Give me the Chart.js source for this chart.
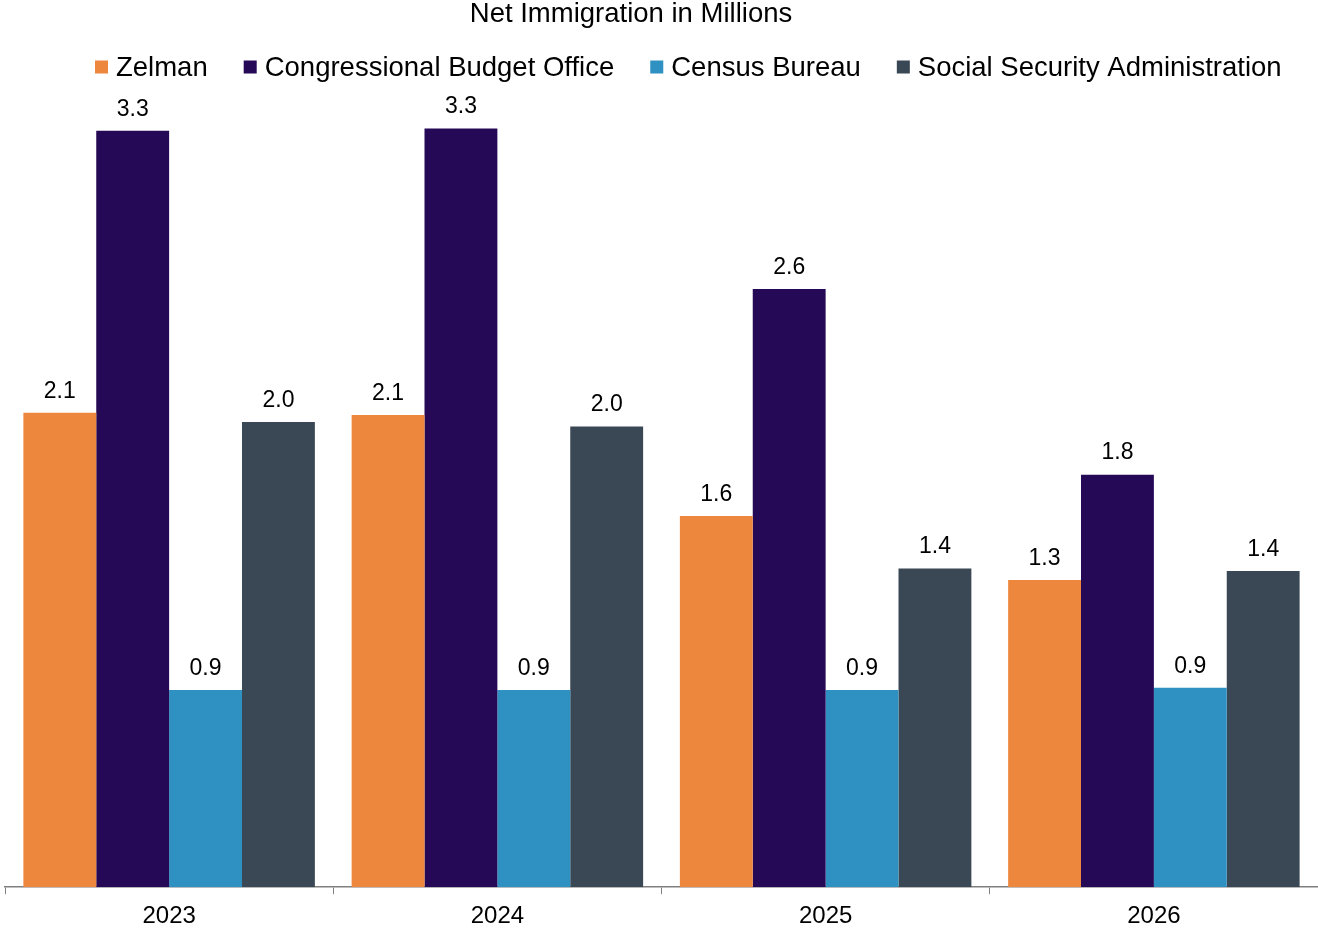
<!DOCTYPE html>
<html>
<head>
<meta charset="utf-8">
<script src="https://cdn.jsdelivr.net/npm/chart.js@4"></script>
<style>
  html, body { margin: 0; padding: 0; background: #ffffff; }
  #wrap { width: 1318px; height: 931px; position: relative; }
</style>
</head>
<body>
<div id="wrap"><canvas id="c"></canvas></div>
<script>
const categories = ["2023", "2024", "2025", "2026"];
const seriesNames = ["Zelman", "Congressional Budget Office", "Census Bureau", "Social Security Administration"];
const zelman = [2.07, 2.06, 1.62, 1.34];
const cbo = [3.30, 3.31, 2.61, 1.80];
const census = [0.86, 0.86, 0.86, 0.87];
const ssa = [2.03, 2.01, 1.39, 1.38];
const colors = ["#EE873E", "#250956", "#2E91C1", "#394854"];
const titleText = "Net Immigration in Millions";

const FONT = "'Liberation Sans', Arial, sans-serif";

const valueLabels = {
  id: 'valueLabels',
  afterDatasetsDraw(chart) {
    const ctx = chart.ctx;
    ctx.save();
    ctx.font = "23px " + FONT;
    ctx.fillStyle = "#000000";
    ctx.textAlign = "center";
    ctx.textBaseline = "bottom";
    chart.data.datasets.forEach((ds, i) => {
      const meta = chart.getDatasetMeta(i);
      meta.data.forEach((bar, j) => {
        ctx.fillText(ds.data[j].toFixed(1), bar.x, bar.y - 10);
      });
    });
    ctx.restore();
  }
};

// Title and legend drawn on the canvas with tighter box-to-text spacing
const headerPlugin = {
  id: 'headerPlugin',
  afterDraw(chart) {
    const ctx = chart.ctx;
    const W = chart.width;
    ctx.save();
    ctx.fillStyle = "#000000";
    ctx.textBaseline = "middle";
    ctx.textAlign = "center";
    ctx.font = "27.5px " + FONT;
    ctx.fillText(titleText, W / 2 - 28, 14);

    ctx.font = "27.5px " + FONT;
    ctx.textAlign = "left";
    const box = 13, boxGap = 8, itemGap = 36;
    const items = chart.data.datasets.map(ds => ({ text: ds.label, color: ds.backgroundColor, w: ctx.measureText(ds.label).width }));
    let total = 0;
    items.forEach((it, i) => { total += box + boxGap + it.w + (i < items.length - 1 ? itemGap : 0); });
    let x = 95;
    const y = 67;
    items.forEach(it => {
      ctx.fillStyle = it.color;
      ctx.fillRect(x, y - box / 2, box, box);
      ctx.fillStyle = "#000000";
      ctx.fillText(it.text, x + box + boxGap, y + 1);
      x += box + boxGap + it.w + itemGap;
    });
    ctx.restore();
  }
};

const allSeries = [zelman, cbo, census, ssa];

new Chart(document.getElementById('c'), {
  type: 'bar',
  data: {
    labels: categories,
    datasets: allSeries.map((d, i) => ({
      label: seriesNames[i],
      data: d,
      backgroundColor: colors[i],
      borderWidth: 0,
      categoryPercentage: 0.888,
      barPercentage: 1.0
    }))
  },
  options: {
    responsive: true,
    maintainAspectRatio: false,
    animation: false,
    layout: { padding: { left: 5, right: 0, top: 85, bottom: -8 } },
    plugins: {
      title: { display: false },
      legend: { display: false },
      tooltip: { enabled: false }
    },
    scales: {
      x: {
        grid: {
          display: true,
          offset: true,
          drawOnChartArea: false,
          drawTicks: true,
          tickLength: 7,
          color: "#808080"
        },
        border: { display: true, color: "#808080", width: 1.5 },
        ticks: {
          color: "#000000",
          font: { family: FONT, size: 24 },
          padding: 8
        }
      },
      y: {
        display: false,
        min: 0,
        max: 3.5
      }
    }
  },
  plugins: [valueLabels, headerPlugin]
});
</script>
</body>
</html>
